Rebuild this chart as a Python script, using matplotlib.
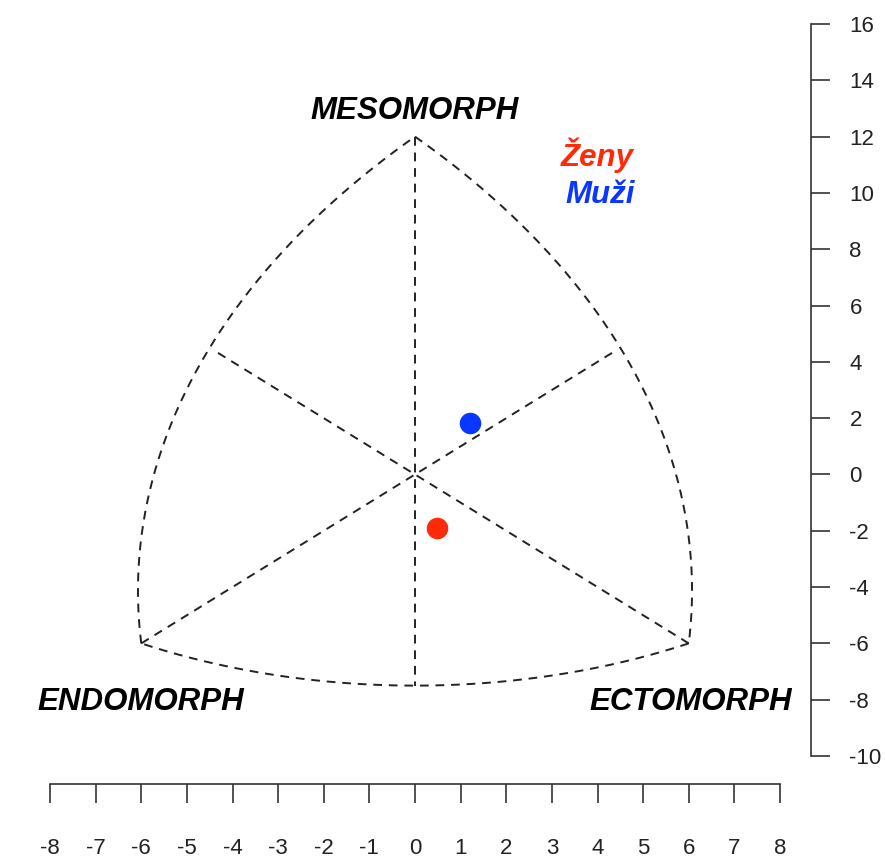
#!/usr/bin/env python3
# Somatochart: Heath-Carter somatotype means for women and men

import numpy as np
import matplotlib
matplotlib.use('Agg')
import matplotlib.pyplot as plt

plt.rcParams['font.family'] = ['Liberation Sans', 'DejaVu Sans']
plt.rcParams['axes.unicode_minus'] = False

# group means (X = ecto - endo, Y = 2*meso - (endo + ecto))
groups = ['Ženy', 'Muži']
groupX = [0.48, 1.21]
groupY = [-1.89, 1.84]
groupColors = ['#FF2A0A', '#0A36FF']

# frame of the chart: the three poles and the arc midpoints
endoPole = (-6.0, -6.0)
mesoPole = (0.0, 12.0)
ectoPole = (6.0, -6.0)
leftArcMid = (-4.5, 4.5)
rightArcMid = (4.5, 4.5)
bottomArcMid = (0.0, -7.5)
lineEnd = 4.33

poleNames = ['ENDOMORPH', 'MESOMORPH', 'ECTOMORPH']
poleLabelPos = [(-6.0, -8.35), (0.0, 12.64), (6.05, -8.35)]

xTicks = np.arange(-8, 9, 1)
yTicks = np.arange(-10, 17, 2)


def circleThrough(p1, p2, p3):
    # solve x^2 + y^2 + D x + E y + F = 0 for the three points
    A = np.array([[p[0], p[1], 1.0] for p in (p1, p2, p3)])
    b = -np.array([p[0]**2 + p[1]**2 for p in (p1, p2, p3)])
    D, E, F = np.linalg.solve(A, b)
    cx, cy = -D/2, -E/2
    r = np.sqrt(cx**2 + cy**2 - F)
    return cx, cy, r


def arcPoints(p1, pm, p2, n=200):
    cx, cy, r = circleThrough(p1, pm, p2)
    a1 = np.arctan2(p1[1]-cy, p1[0]-cx)
    a2 = np.arctan2(p2[1]-cy, p2[0]-cx)
    am = np.arctan2(pm[1]-cy, pm[0]-cx)
    # pick the direction that goes through the midpoint
    if not (min(a1, a2) <= am <= max(a1, a2)):
        if a1 < a2:
            a1 += 2*np.pi
        else:
            a2 += 2*np.pi
    t = np.linspace(a1, a2, n)
    return cx + r*np.cos(t), cy + r*np.sin(t)


fig = plt.figure(figsize=(8.85, 8.58), dpi=100)
ax = fig.add_axes([50/885, 102/858, 730/885, 732/858])

dash = dict(color='#222222', lw=1.4, linestyle=(0, (4.5, 3.5)))

for p1, pm, p2 in [(endoPole, leftArcMid, mesoPole),
                   (mesoPole, rightArcMid, ectoPole),
                   (ectoPole, bottomArcMid, endoPole)]:
    ax.plot(*arcPoints(p1, pm, p2), **dash)

ax.plot([mesoPole[0], bottomArcMid[0]], [mesoPole[1], bottomArcMid[1]], **dash)
ax.plot([endoPole[0], lineEnd], [endoPole[1], lineEnd], **dash)
ax.plot([ectoPole[0], -lineEnd], [ectoPole[1], lineEnd], **dash)

for name, (px, py) in zip(poleNames, poleLabelPos):
    ax.text(px, py, name, ha='center', va='baseline', fontsize=22.5,
            fontweight='bold', fontstyle='italic', color='black')

for gx, gy, c in zip(groupX, groupY, groupColors):
    ax.plot(gx, gy, 'o', ms=14.5, color=c, mec=c)

# legend as coloured text
ax.text(4.0, 10.94, groups[0], ha='center', va='baseline', fontsize=22.5,
        fontweight='bold', fontstyle='italic', color=groupColors[0])
ax.text(4.05, 9.65, groups[1], ha='center', va='baseline', fontsize=22.5,
        fontweight='bold', fontstyle='italic', color=groupColors[1])

ax.set_xlim(-8, 8)
ax.set_ylim(-10, 16)

for s in ['top', 'left']:
    ax.spines[s].set_visible(False)
ax.spines['bottom'].set_position(('outward', 20))
ax.spines['right'].set_position(('outward', 22))
ax.spines['bottom'].set_bounds(-8, 8)
ax.spines['right'].set_bounds(-10, 16)
for s in ['bottom', 'right']:
    ax.spines[s].set_linewidth(1.2)
    ax.spines[s].set_color('#333333')

ax.set_xticks(xTicks)
ax.set_yticks(yTicks)
ax.yaxis.tick_right()
ax.tick_params(axis='both', length=14, width=1.2, color='#333333',
               labelsize=16, labelcolor='#222222')
ax.tick_params(axis='x', pad=25)
ax.tick_params(axis='y', pad=14)

plt.savefig('out.png', dpi=100)
